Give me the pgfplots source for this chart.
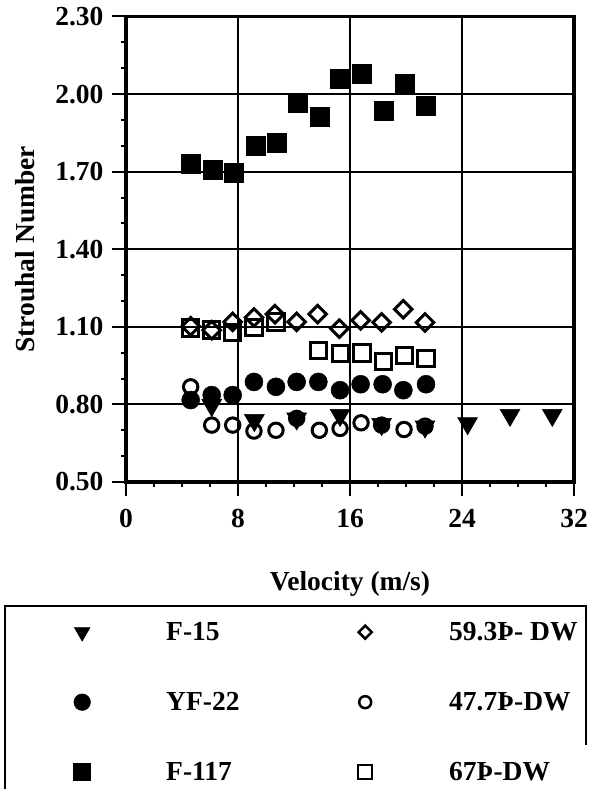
\documentclass[border=0pt]{standalone}
\usepackage{fontspec}
\setmainfont{Liberation Serif}
\usepackage{pgfplots}
\pgfplotsset{compat=1.18}
\newcommand{\ff}{\bfseries\fontsize{27.5}{31}\selectfont}
\newcommand{\tf}{\bfseries\fontsize{27.5}{31}\selectfont}
\begin{document}
\begin{tikzpicture}[x=1pt,y=1pt]
\begin{axis}[
  at={(126pt,307pt)}, anchor=south west,
  scale only axis, width=448pt, height=465.5pt,
  xmin=0, xmax=32, ymin=0.5, ymax=2.3,
  xtick={0,8,16,24,32}, xticklabels={0,8,16,24,32},
  ytick={0.5,0.8,1.1,1.4,1.7,2.0,2.3},
  yticklabels={0.50,0.80,1.10,1.40,1.70,2.00,2.30},
  minor x tick num=3, minor y tick num=2,
  xtick pos=bottom, ytick pos=left,
  tick align=outside, major tick length=14pt, minor tick length=5pt,
  tick style={black, line width=2pt},
  grid=major, major grid style={black, line width=2pt},
  axis line style={line width=3.5pt},
  ticklabel style={font=\tf},
  xticklabel style={yshift=-10pt},
  yticklabel style={xshift=-5pt},
  label style={font=\ff},
  xlabel={Velocity (m/s)}, ylabel={Strouhal Number},
  xlabel style={at={(axis description cs:0.5,-0.218)}, anchor=center},
  ylabel style={at={(axis description cs:-0.2254,0.5)}, anchor=center},
  legend columns=2,
  legend cell align=left,
  legend style={at={(axis description cs:-0.1875,-0.2470)}, anchor=north west,
    draw=none, fill=none, inner sep=0pt, column sep=0pt, row sep=0pt,
    font=\ff, nodes={inner sep=0pt}},
  legend image code/.code={\path[draw=none,fill=none] (-40pt,-35pt) rectangle (84pt,35pt);
    \draw plot coordinates {(0pt,0pt)};},
]
% 67 deg DW (open squares)
\addplot[only marks, black, mark=square, mark size=8.2pt, mark options={line width=3pt}, forget plot]
 coordinates {(4.62,1.095)(6.12,1.087)(7.62,1.079)(9.14,1.097)(10.71,1.119)
 (13.74,1.008)(15.33,0.997)(16.86,0.999)(18.38,0.967)(19.88,0.988)(21.43,0.978)};
% 59.3 deg DW (diamonds)
\addplot[only marks, black, mark=square, mark size=6.2pt, mark options={rotate=45, line width=3pt}, forget plot]
 coordinates {(4.62,1.102)(6.12,1.087)(7.62,1.119)(9.14,1.136)(10.64,1.149)(12.19,1.119)
 (13.69,1.149)(15.24,1.093)(16.76,1.125)(18.26,1.117)(19.81,1.168)(21.36,1.117)};
% 47.7 deg DW (open circles)
\addplot[only marks, black, mark=o, mark size=7.2pt, mark options={line width=3pt}, forget plot]
 coordinates {(4.62,0.868)(6.12,0.720)(7.62,0.720)(9.14,0.697)(10.71,0.700)(12.19,0.746)
 (13.81,0.700)(15.29,0.707)(16.79,0.729)(18.26,0.720)(19.86,0.703)(21.36,0.716)};
% F-15 (down triangles)
\addplot[only marks, black, mark=triangle*, mark size=11.5pt, mark options={rotate=180, fill=black, line width=0.5pt}, forget plot]
 coordinates {(6.12,0.797)(9.17,0.739)(12.19,0.745)(15.29,0.759)(18.26,0.724)(21.36,0.714)
 (24.40,0.727)(27.43,0.759)(30.45,0.759)};
% YF-22 (filled circles)
\addplot[only marks, black, mark=*, mark size=9pt, mark options={fill=black, line width=0.5pt}, forget plot]
 coordinates {(4.62,0.817)(6.12,0.836)(7.62,0.836)(9.14,0.887)(10.71,0.868)(12.19,0.887)
 (13.74,0.887)(15.29,0.855)(16.76,0.878)(18.33,0.878)(19.81,0.855)(21.43,0.878)};
% F-117 (filled squares)
\addplot[only marks, black, mark=square*, mark size=9.5pt, mark options={fill=black, line width=0.5pt}, forget plot]
 coordinates {(4.64,1.730)(6.17,1.708)(7.69,1.697)(9.24,1.801)(10.74,1.812)(12.29,1.966)
 (13.81,1.914)(15.29,2.059)(16.86,2.078)(18.38,1.935)(19.88,2.039)(21.43,1.956)};
% legend
\addlegendimage{only marks, black, mark=triangle*, mark size=9pt, mark options={rotate=180, fill=black, line width=0.5pt}}
\addlegendentry{\makebox[159pt][l]{F-15}}
\addlegendimage{only marks, black, mark=square, mark size=4.6pt, mark options={rotate=45, line width=2.5pt}}
\addlegendentry{59.3Þ- DW}
\addlegendimage{only marks, black, mark=*, mark size=8.3pt, mark options={fill=black, line width=0.5pt}}
\addlegendentry{\makebox[159pt][l]{YF-22}}
\addlegendimage{only marks, black, mark=o, mark size=6pt, mark options={line width=2.5pt}}
\addlegendentry{47.7Þ-DW}
\addlegendimage{only marks, black, mark=square*, mark size=8.5pt, mark options={fill=black, line width=0.5pt}}
\addlegendentry{\makebox[159pt][l]{F-117}}
\addlegendimage{only marks, black, mark=square, mark size=7pt, mark options={line width=2.5pt}}
\addlegendentry{67Þ-DW}
\end{axis}
\draw[line width=2.5pt] (5,0) -- (5,183) -- (586,183) -- (586,44);
\pgfresetboundingbox
\useasboundingbox (0,0) rectangle (589,789);
\end{tikzpicture}
\end{document}
